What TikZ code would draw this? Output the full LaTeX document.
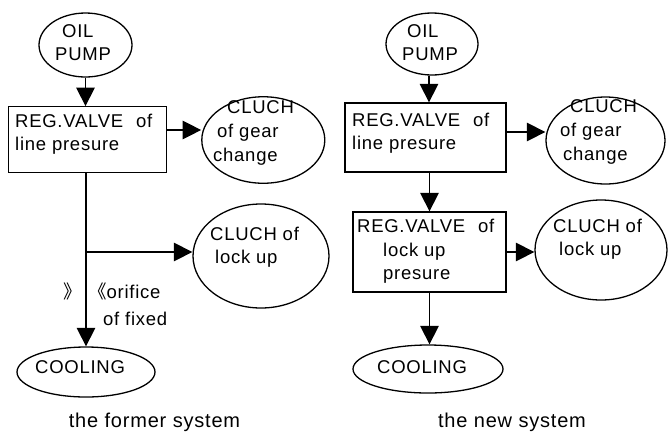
\documentclass[tikz,border=0pt]{standalone}
\usepackage{fontspec}
\setmainfont{Liberation Sans}[LetterSpace=4]
\newfontfamily\cjkfont{Noto Sans CJK SC}
\usetikzlibrary{shapes.geometric,arrows.meta}
\tikzset{
  ell/.style={ellipse, draw, line width=1.3pt, inner sep=0pt},
  boxn/.style={rectangle, draw, line width=1.3pt, inner sep=0pt},
  arr/.style={line width=1.3pt, -{Triangle[length=18.5pt,width=18.5pt]}},
  txt/.style={inner sep=0pt, anchor=base west, font=\fontsize{18.5}{23}\selectfont},
  captxt/.style={inner sep=0pt, anchor=base, font=\fontsize{20}{24}\selectfont},
}
\begin{document}
\begin{tikzpicture}[x=1pt,y=-1pt]
\useasboundingbox[fill=white] (0,0) rectangle (669,432);

% ---------- left: the former system ----------
\node[ell, minimum width=93pt, minimum height=64pt] (pump1) at (85.5,45) {};
\node[boxn, minimum width=158.5pt, minimum height=65.5pt] (box1) at (87.5,139.5) {};
\node[ell, minimum width=123pt, minimum height=86.5pt] (gear1) at (263.3,140) {};
\node[ell, minimum width=136pt, minimum height=104pt] (lock1) at (261,256) {};
\node[ell, minimum width=138pt, minimum height=50pt] (cool1) at (86,372) {};

\node[txt] (l1a) at (62,37) {OIL};
\node[txt] (l1b) at (55,60) {PUMP};
\node[txt] (l2a) at (15,127) {REG.VALVE\hspace{7pt} of};
\node[txt] (l2b) at (15,150) {line presure};
\node[txt] (l3a) at (227,113) {CLUCH};
\node[txt] (l3b) at (217,137) {of gear};
\node[txt] (l3c) at (213,161) {change};
\node[txt] (l4a) at (210,240) {CLUCH of};
\node[txt] (l4b) at (215,263) {lock up};
\node[txt] (l5a) at (63.5,298) {\cjkfont 》};
\node[txt] (l5b) at (88,298) {{\cjkfont 《}orifice};
\node[txt] (l5c) at (103,325) {of fixed};
\node[txt] (l6) at (35,373) {COOLING};
\node[captxt] (c1) at (154.5,427) {the former system};

\draw[arr] (pump1.south) -- (pump1.south |- box1.north);
\draw[arr] ([yshift=9.5pt]box1.east) -- ([yshift=10pt]gear1.west);
\draw[arr] (cool1.north |- box1.south) -- (cool1.north);
\coordinate (br) at (86,252);
\draw[arr] (br) -- ([yshift=4pt]lock1.west);

% ---------- right: the new system ----------
\node[ell, minimum width=92pt, minimum height=62pt] (pump2) at (432,44) {};
\node[boxn, minimum width=161pt, minimum height=69pt] (box2a) at (425.5,137.5) {};
\node[ell, minimum width=119pt, minimum height=87pt] (gear2) at (605.5,140.5) {};
\node[boxn, minimum width=153pt, minimum height=80pt] (box2b) at (429.5,252) {};
\node[ell, minimum width=132pt, minimum height=100pt] (lock2) at (601,250) {};
\node[ell, minimum width=150pt, minimum height=48pt] (cool2) at (428,369) {};

\node[txt] (r1a) at (407,37) {OIL};
\node[txt] (r1b) at (402,60) {PUMP};
\node[txt] (r2a) at (352,126) {REG.VALVE\hspace{7pt} of};
\node[txt] (r2b) at (352,149) {line presure};
\node[txt] (r3a) at (570,112) {CLUCH};
\node[txt] (r3b) at (560,136) {of gear};
\node[txt] (r3c) at (563,160) {change};
\node[txt] (r4a) at (357,232) {REG.VALVE\hspace{7pt} of};
\node[txt] (r4b) at (383,256) {lock up};
\node[txt] (r4c) at (383,279) {presure};
\node[txt] (r5a) at (553,232) {CLUCH of};
\node[txt] (r5b) at (559,255) {lock up};
\node[txt] (r6) at (377,373) {COOLING};
\node[captxt] (c2) at (512,427) {the new system};

\draw[arr] ([xshift=-3pt]pump2.south) -- ([xshift=-3pt]pump2.south |- box2a.north);
\draw[arr] ([yshift=5.5pt]box2a.east) -- ([yshift=8.5pt]gear2.west);
\draw[arr] (box2b.north |- box2a.south) -- (box2b.north);
\draw[arr] (box2b.east) -- ([yshift=-2pt]lock2.west);
\draw[arr] (box2b.south) -- (box2b.south |- cool2.north);
\end{tikzpicture}
\end{document}
